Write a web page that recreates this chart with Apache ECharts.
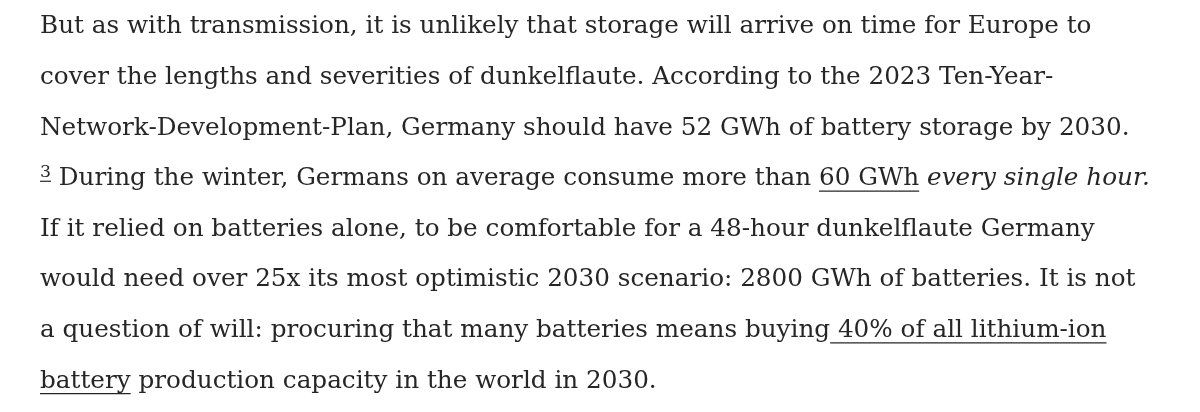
<!DOCTYPE html>
<html lang="en">
<head>
<meta charset="UTF-8">
<title>paragraph</title>
<script src="https://cdn.jsdelivr.net/npm/echarts@6/dist/echarts.min.js"></script>
<style>html,body{margin:0;background:#fff}#chart{width:1200px;height:412px}</style>
</head>
<body>
<div id="chart"></div>
<script>
// text runs per line: [text, kind]  n = normal, i = italic, u = underlined, s = superscript link
var line1 = [['But as with transmission, it is unlikely that storage will arrive on time for Europe to', 'n']];
var line2 = [['cover the lengths and severities of dunkelflaute. According to the 2023 Ten-Year-', 'n']];
var line3 = [['Network-Development-Plan, Germany should have 52 GWh of battery storage by 2030.', 'n']];
var line4 = [['3', 's'], [' During the winter, Germans on average consume more than ', 'n'], ['60 GWh', 'u'], [' ', 'n'], ['every single hour.', 'i']];
var line5 = [['If it relied on batteries alone, to be comfortable for a 48-hour dunkelflaute Germany', 'n']];
var line6 = [['would need over 25x its most optimistic 2030 scenario: 2800 GWh of batteries. It is not', 'n']];
var line7 = [['a question of will: procuring that many batteries means buying', 'n'], [' 40% of all lithium-ion', 'u']];
var line8 = [['battery', 'u'], [' production capacity in the world in 2030.', 'n']];
var lines = [line1, line2, line3, line4, line5, line6, line7, line8];

var family = '"DejaVu Serif", serif';
var color = '#262626';
var ctx = document.createElement('canvas').getContext('2d');
function measure(t, size, italic) {
    ctx.font = (italic ? 'italic ' : '') + size + 'px ' + family;
    return ctx.measureText(t).width;
}
// fit first line to its width in the page
var size = 24 * 1052 / measure(line1[0][0], 24, false);
var left = 40, top0 = 27, lineGap = 50.6;

var elements = [];
lines.forEach(function (line, li) {
    var x = left, y = top0 + li * lineGap;
    line.forEach(function (run) {
        var t = run[0], k = run[1];
        var fs = k === 's' ? size * 0.7 : size;
        var italic = k === 'i';
        var w = measure(t, fs, italic);
        elements.push({
            type: 'text', x: x, y: k === 's' ? y - size * 0.25 : y,
            style: { text: t, fill: color, font: (italic ? 'italic ' : '') + fs + 'px ' + family, textVerticalAlign: 'middle' }
        });
        if (k === 'u' || k === 's') {
            var uy = k === 's' ? y + size * 0.1 : y + size * 0.5;
            elements.push({ type: 'line', shape: { x1: x, y1: uy, x2: x + w, y2: uy }, style: { stroke: color, lineWidth: 1.2 } });
        }
        x += w;
    });
});

var myChart = echarts.init(document.getElementById('chart'));
myChart.setOption({ backgroundColor: '#fff', graphic: elements });
</script>
</body>
</html>
